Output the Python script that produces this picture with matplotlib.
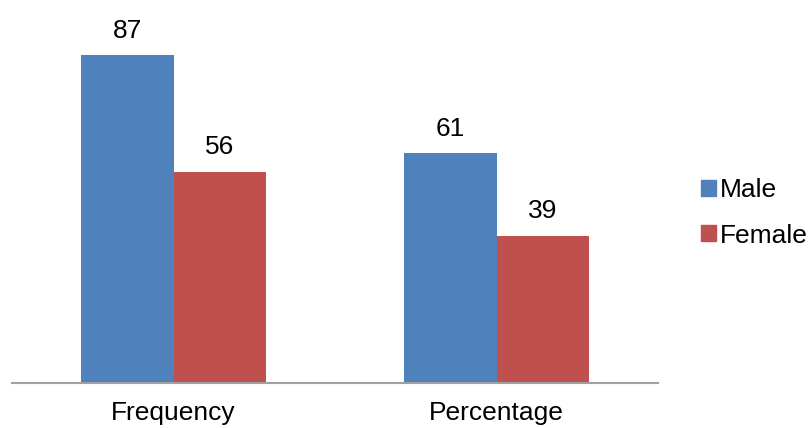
import matplotlib
matplotlib.use("Agg")
from matplotlib import pyplot as plt
from matplotlib.patches import Patch
import numpy as np

# data
categories = ["Frequency", "Percentage"]
male = [87, 61]
female = [56, 39]

male_color = "#4F81BD"
female_color = "#C0504D"

plt.rcParams["font.family"] = ["Liberation Sans", "DejaVu Sans"]

fig = plt.figure(figsize=(8.1, 4.28), dpi=100)
ax = fig.add_axes([12 / 810, 45 / 428, 646 / 810, 377 / 428])

x = np.arange(len(categories))
w = 0.285
b1 = ax.bar(x - w / 2, male, w, color=male_color, label="Male")
b2 = ax.bar(x + w / 2, female, w, color=female_color, label="Female")

for bars in (b1, b2):
    for bar in bars:
        ax.annotate(str(int(bar.get_height())),
                    (bar.get_x() + bar.get_width() / 2, bar.get_height()),
                    xytext=(0, 9), textcoords="offset points",
                    ha="center", va="bottom", fontsize=19)

ax.set_xlim(-0.5, 1.5)
ax.set_ylim(0, 100)
ax.set_xticks(x)
ax.set_xticklabels(categories, fontsize=19)
ax.tick_params(axis="x", length=0, pad=13)
ax.set_yticks([])
for s in ["top", "right", "left"]:
    ax.spines[s].set_visible(False)
ax.spines["bottom"].set_color("#A0A0A0")
ax.spines["bottom"].set_linewidth(1.5)

handles = [Patch(color=male_color, label="Male"), Patch(color=female_color, label="Female")]
fig.legend(handles=handles, loc="center left", bbox_to_anchor=(688 / 810, 1 - 213 / 428),
           frameon=False, fontsize=19, handlelength=0.55, handleheight=0.55,
           handletextpad=0.15, labelspacing=0.8, borderpad=0)

fig.savefig("out.png", dpi=100)
